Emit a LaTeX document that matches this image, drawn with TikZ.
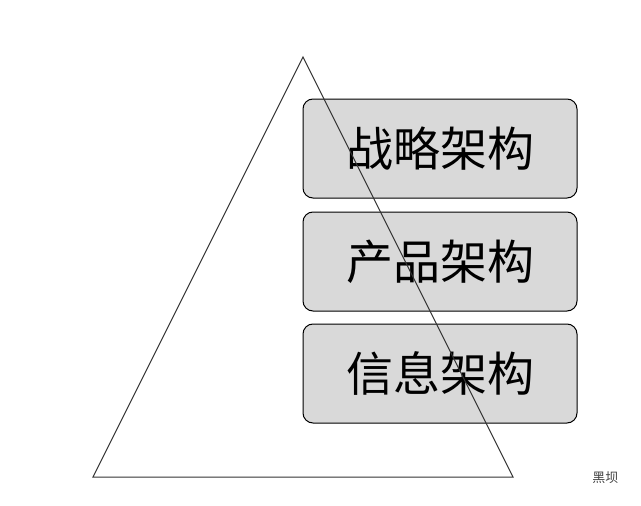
\documentclass[tikz,border=0pt]{standalone}
\usepackage{fontspec}
\newfontfamily\cjk{Noto Sans CJK SC}
\tikzset{
	layer/.style = {draw=black, line width=1pt, fill=gray!30, rounded corners=10pt, minimum width=274pt, minimum height=99pt, font=\cjk\fontsize{47}{47}\selectfont, inner sep=0pt},
}
\begin{document}
\begin{tikzpicture}[x=1pt, y=-1pt]
	\useasboundingbox (0,0) rectangle (641,506);
	% ====== Layers ========
	\node[layer] (L1) at (440,148.5) {战略架构};
	\node[layer] (L2) at (440,261.5) {产品架构};
	\node[layer] (L3) at (440,373.5) {信息架构};
	% ====== Pyramid ========
	\coordinate (T) at (303,57);
	\coordinate (BL) at (93,477);
	\coordinate (BR) at (513,477);
	\draw[black!80, line width=1pt] (T) -- (BL) -- (BR) -- cycle;
	\node[font=\cjk\fontsize{13}{13}\selectfont, text=black!75, anchor=east] (W) at (622,478) {黑坝};
\end{tikzpicture}
\end{document}
